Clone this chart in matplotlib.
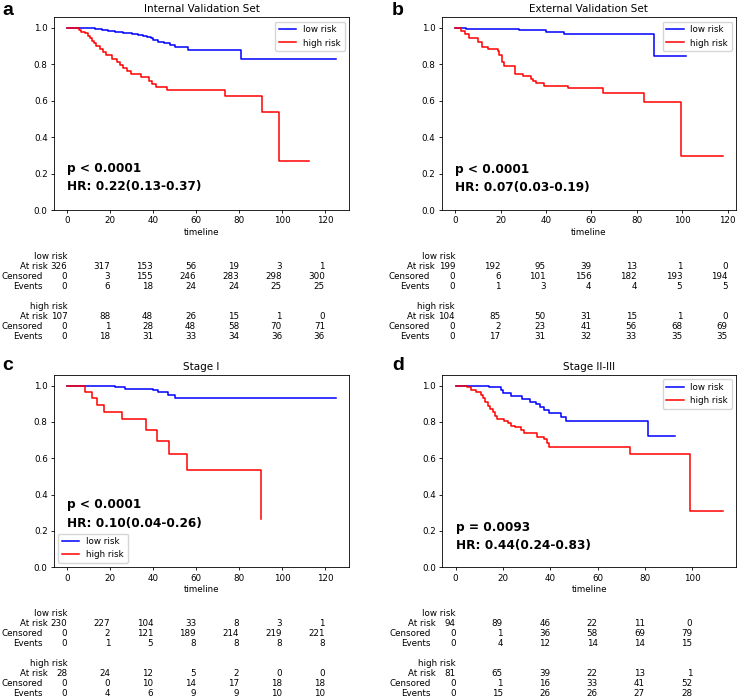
import matplotlib
matplotlib.use("Agg")
import matplotlib.pyplot as plt
from matplotlib.transforms import blended_transform_factory, ScaledTranslation

plt.rcParams['font.family'] = ['DejaVu Sans']

# ---------------- data ----------------
titles = ["Internal Validation Set", "External Validation Set", "Stage I", "Stage II-III"]
panel_letters = ["a", "b", "c", "d"]
group_names = ["low risk", "high risk"]
pvals = ["p < 0.0001", "p < 0.0001", "p < 0.0001", "p = 0.0093"]
hrs = ["HR: 0.22(0.13-0.37)", "HR: 0.07(0.03-0.19)", "HR: 0.10(0.04-0.26)", "HR: 0.44(0.24-0.83)"]

# panel a
a_low_t = [0, 13, 16, 19, 22, 26, 30, 33, 35, 37, 39, 40, 42, 45, 48, 50, 56, 81, 125]
a_low_s = [1.0, 0.995, 0.99, 0.983, 0.977, 0.972, 0.968, 0.962, 0.957, 0.95, 0.943, 0.935, 0.925, 0.915, 0.905, 0.893, 0.878, 0.827, 0.827]
a_high_t = [0, 5.5, 6.5, 8, 9.5, 10.5, 11.5, 12.5, 13.5, 15, 16.5, 18, 21, 23, 24.5, 26, 28, 29.5, 34.5, 38, 39.5, 41.5, 46.5, 73.5, 90.5, 98.8, 112.5]
a_high_s = [1.0, 0.99, 0.98, 0.97, 0.955, 0.943, 0.93, 0.915, 0.9, 0.885, 0.87, 0.85, 0.83, 0.81, 0.795, 0.778, 0.762, 0.745, 0.732, 0.71, 0.693, 0.677, 0.66, 0.627, 0.537, 0.268, 0.268]

# panel b
b_low_t = [0, 5, 28, 40, 48, 87.7, 101.5]
b_low_s = [1.0, 0.995, 0.99, 0.978, 0.965, 0.845, 0.845]
b_high_t = [0, 2.6, 4.5, 6.3, 10, 11.9, 14.4, 18.8, 19.5, 20.7, 21.4, 26.5, 29.8, 33.4, 34.5, 35.6, 39.3, 49.6, 65, 83.3, 99.5, 117.8]
b_high_s = [1.0, 0.985, 0.965, 0.943, 0.925, 0.897, 0.885, 0.875, 0.852, 0.815, 0.788, 0.747, 0.736, 0.72, 0.71, 0.696, 0.681, 0.668, 0.645, 0.595, 0.299, 0.299]

# panel c
c_low_t = [0, 19.5, 22, 27, 40, 42, 47, 50, 125]
c_low_s = [1.0, 0.995, 0.99, 0.983, 0.975, 0.962, 0.947, 0.933, 0.933]
c_high_t = [0, 8, 11.5, 13.6, 17, 25.6, 36.5, 41.7, 47.5, 55.9, 90]
c_high_s = [1.0, 0.964, 0.929, 0.893, 0.857, 0.814, 0.757, 0.694, 0.625, 0.535, 0.267]

# panel d
d_low_t = [0, 14.2, 19.1, 19.8, 23.3, 28.2, 31.3, 33.8, 35.5, 37.3, 39.4, 44.3, 46.7, 81.2, 92.5]
d_low_s = [1.0, 0.99, 0.975, 0.958, 0.94, 0.927, 0.912, 0.897, 0.884, 0.866, 0.848, 0.829, 0.806, 0.723, 0.723]
d_high_t = [0, 5, 6.5, 8.5, 10.5, 11.5, 12.5, 13.5, 14.5, 15.8, 16.5, 17.5, 20.5, 22, 23.5, 25, 27.5, 29, 34.5, 37.5, 38.5, 39.5, 73.5, 98.8, 112.8]
d_high_s = [1.0, 0.99, 0.975, 0.962, 0.95, 0.93, 0.91, 0.89, 0.87, 0.855, 0.835, 0.815, 0.805, 0.795, 0.78, 0.77, 0.755, 0.74, 0.715, 0.705, 0.685, 0.662, 0.624, 0.31, 0.31]

# at-risk tables: [at risk, censored, events]
a_low_tab = [[326, 317, 153, 56, 19, 3, 1], [0, 3, 155, 246, 283, 298, 300], [0, 6, 18, 24, 24, 25, 25]]
a_high_tab = [[107, 88, 48, 26, 15, 1, 0], [0, 1, 28, 48, 58, 70, 71], [0, 18, 31, 33, 34, 36, 36]]
b_low_tab = [[199, 192, 95, 39, 13, 1, 0], [0, 6, 101, 156, 182, 193, 194], [0, 1, 3, 4, 4, 5, 5]]
b_high_tab = [[104, 85, 50, 31, 15, 1, 0], [0, 2, 23, 41, 56, 68, 69], [0, 17, 31, 32, 33, 35, 35]]
c_low_tab = [[230, 227, 104, 33, 8, 3, 1], [0, 2, 121, 189, 214, 219, 221], [0, 1, 5, 8, 8, 8, 8]]
c_high_tab = [[28, 24, 12, 5, 2, 0, 0], [0, 0, 10, 14, 17, 18, 18], [0, 4, 6, 9, 9, 10, 10]]
d_low_tab = [[94, 89, 46, 22, 11, 0], [0, 1, 36, 58, 69, 79], [0, 4, 12, 14, 14, 15]]
d_high_tab = [[81, 65, 39, 22, 13, 1], [0, 1, 16, 33, 41, 52], [0, 15, 26, 26, 27, 28]]
row_names = ["At risk", "Censored", "Events"]

panels = [
    (a_low_t, a_low_s, a_high_t, a_high_s, a_low_tab, a_high_tab),
    (b_low_t, b_low_s, b_high_t, b_high_s, b_low_tab, b_high_tab),
    (c_low_t, c_low_s, c_high_t, c_high_s, c_low_tab, c_high_tab),
    (d_low_t, d_low_s, d_high_t, d_high_s, d_low_tab, d_high_tab),
]

# ---------------- layout ----------------
W, H = 740, 698
fig = plt.figure(figsize=(W / 100, H / 100), dpi=100)

# axes boxes in pixels: left, top, right, bottom
boxes = [(54, 17.3, 349, 210), (441.7, 17.3, 736, 210),
         (54, 375, 349, 567.3), (442.3, 375, 736, 567.3)]
legend_locs = ["upper right", "upper right", "lower left", "upper right"]
text_y = [(0.213, 0.121), (0.211, 0.118), (0.324, 0.229), (0.208, 0.112)]
letter_pos = [(2, 15), (392, 15), (2, 370), (392, 370)]

FS = 6.3
colors = ["blue", "red"]

for i, (lt, ls, ht, hs, ltab, htab) in enumerate(panels):
    l, t, r, b = boxes[i]
    ax = fig.add_axes([l / W, 1 - b / H, (r - l) / W, (b - t) / H])
    ax.step(lt, ls, where="post", color=colors[0], lw=1.1, label=group_names[0])
    ax.step(ht, hs, where="post", color=colors[1], lw=1.1, label=group_names[1])
    ax.set_ylim(0, 1.058)
    ax.set_title(titles[i], fontsize=7.5, pad=3.5)
    ax.tick_params(labelsize=FS, length=2.5, width=0.6, pad=2)
    for sp in ax.spines.values():
        sp.set_linewidth(0.6)
    ax.set_xlabel("timeline", fontsize=FS, labelpad=2)
    ax.legend(loc=legend_locs[i], fontsize=FS, handlelength=2.0, borderpad=0.4,
              labelspacing=0.5, handletextpad=0.8)
    ax.text(0, text_y[i][0], pvals[i], transform=blended_transform_factory(ax.transData, ax.transAxes),
            fontsize=8.7, fontweight="bold", va="center", ha="left")
    ax.text(0, text_y[i][1], hrs[i], transform=blended_transform_factory(ax.transData, ax.transAxes),
            fontsize=8.7, fontweight="bold", va="center", ha="left")

    fig.text(letter_pos[i][0] / W, 1 - letter_pos[i][1] / H, panel_letters[i],
             fontsize=14, fontweight="bold", family=["Liberation Sans", "DejaVu Sans"],
             ha="left", va="baseline")

    # at-risk table
    fig.canvas.draw_idle()
    xmin, xmax = ax.get_xlim()
    ticks = [tk for tk in ax.get_xticks() if xmin <= tk <= xmax]
    base = blended_transform_factory(ax.transData, ax.transAxes)

    def tr(dx, dy):
        return base + ScaledTranslation(dx / 100, -dy / 100, fig.dpi_scale_trans)

    for g, tab in enumerate([ltab, htab]):
        y0 = 46 + g * 50
        ax.text(ticks[0], 0, group_names[g], transform=tr(0, y0), fontsize=FS,
                ha="right", va="center", clip_on=False)
        for rI, rname in enumerate(row_names):
            dy = y0 + 10 * (rI + 1)
            dx = -20 if rI == 0 else -25
            ax.text(ticks[0], 0, rname, transform=tr(dx, dy), fontsize=FS,
                    ha="right", va="center", clip_on=False)
            for k, tk in enumerate(ticks):
                ax.text(tk, 0, str(tab[rI][k]), transform=tr(0, dy), fontsize=FS,
                        ha="right", va="center", clip_on=False)

fig.savefig("out.png", dpi=100)
